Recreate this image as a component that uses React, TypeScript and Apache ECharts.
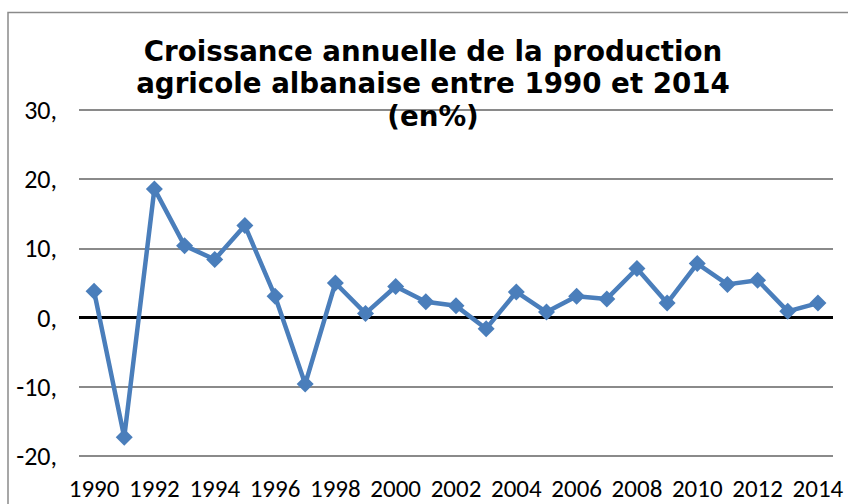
import React, { useEffect, useRef } from "react";
import * as echarts from "echarts";

const years = [
  "1990", "1991", "1992", "1993", "1994", "1995", "1996", "1997", "1998", "1999",
  "2000", "2001", "2002", "2003", "2004", "2005", "2006", "2007", "2008", "2009",
  "2010", "2011", "2012", "2013", "2014",
];
const growth = [
  3.8, -17.3, 18.6, 10.4, 8.4, 13.3, 3.1, -9.6, 5.0, 0.6,
  4.5, 2.3, 1.7, -1.6, 3.7, 0.8, 3.1, 2.7, 7.1, 2.1,
  7.8, 4.8, 5.4, 0.9, 2.1,
];
const titleLines = [
  "Croissance annuelle de la production",
  "agricole albanaise entre 1990 et 2014",
  "(en%)",
];

export default function App() {
  const ref = useRef<HTMLDivElement>(null);
  useEffect(() => {
    if (!ref.current) return;
    const chart = echarts.init(ref.current, null, { renderer: "svg" });
    const labelFont = 'Carlito, Lato, "Liberation Sans", sans-serif';
    chart.setOption({
      animation: false,
      backgroundColor: "#ffffff",
      grid: { left: 79, right: 15, top: 110, bottom: 48, containLabel: false },
      graphic: [
        {
          type: "rect",
          shape: { x: 8, y: 12.5, width: 880, height: 560 },
          style: { fill: "none", stroke: "#8a8a8a", lineWidth: 1.5 },
          silent: true,
          z: 0,
        },
        {
          type: "text",
          x: 433,
          y: 35,
          z: 100,
          style: {
            text: titleLines.join("\n"),
            fontSize: 27.7,
            fontWeight: "bold",
            fontFamily: '"DejaVu Sans", Verdana, sans-serif',
            lineHeight: 32.5,
            align: "center",
            verticalAlign: "top",
            fill: "#000000",
          },
        },
      ],
      xAxis: {
        type: "category",
        data: years,
        boundaryGap: true,
        axisLine: { show: false, onZero: false },
        axisTick: { show: false },
        axisLabel: {
          interval: 1,
          color: "#000000",
          fontSize: 25,
          lineHeight: 22,
          fontFamily: labelFont,
          margin: 21,
        },
        splitLine: { show: false },
      },
      yAxis: {
        type: "value",
        min: -20,
        max: 30,
        interval: 10,
        axisLine: { show: false },
        axisTick: { show: false },
        axisLabel: {
          color: "#000000",
          fontSize: 26,
          fontFamily: labelFont,
          margin: 22,
          formatter: (v: number) => `${v},`,
        },
        splitLine: { show: true, lineStyle: { color: "#8a8a8a", width: 2 } },
      },
      series: [
        {
          type: "line",
          data: growth,
          color: "#4a7ebb",
          lineStyle: { color: "#4a7ebb", width: 4.5 },
          itemStyle: { color: "#4a7ebb" },
          symbol: "diamond",
          symbolSize: 17,
          showSymbol: true,
          z: 5,
          markLine: {
            silent: true,
            symbol: "none",
            label: { show: false },
            lineStyle: { color: "#000000", width: 3, type: "solid" },
            data: [{ yAxis: 0 }],
            z: 3,
          },
        },
      ],
    });
    return () => chart.dispose();
  }, []);
  return (
    <div
      ref={ref}
      style={{ position: "fixed", left: 0, top: 0, width: 848, height: 504 }}
    />
  );
}
